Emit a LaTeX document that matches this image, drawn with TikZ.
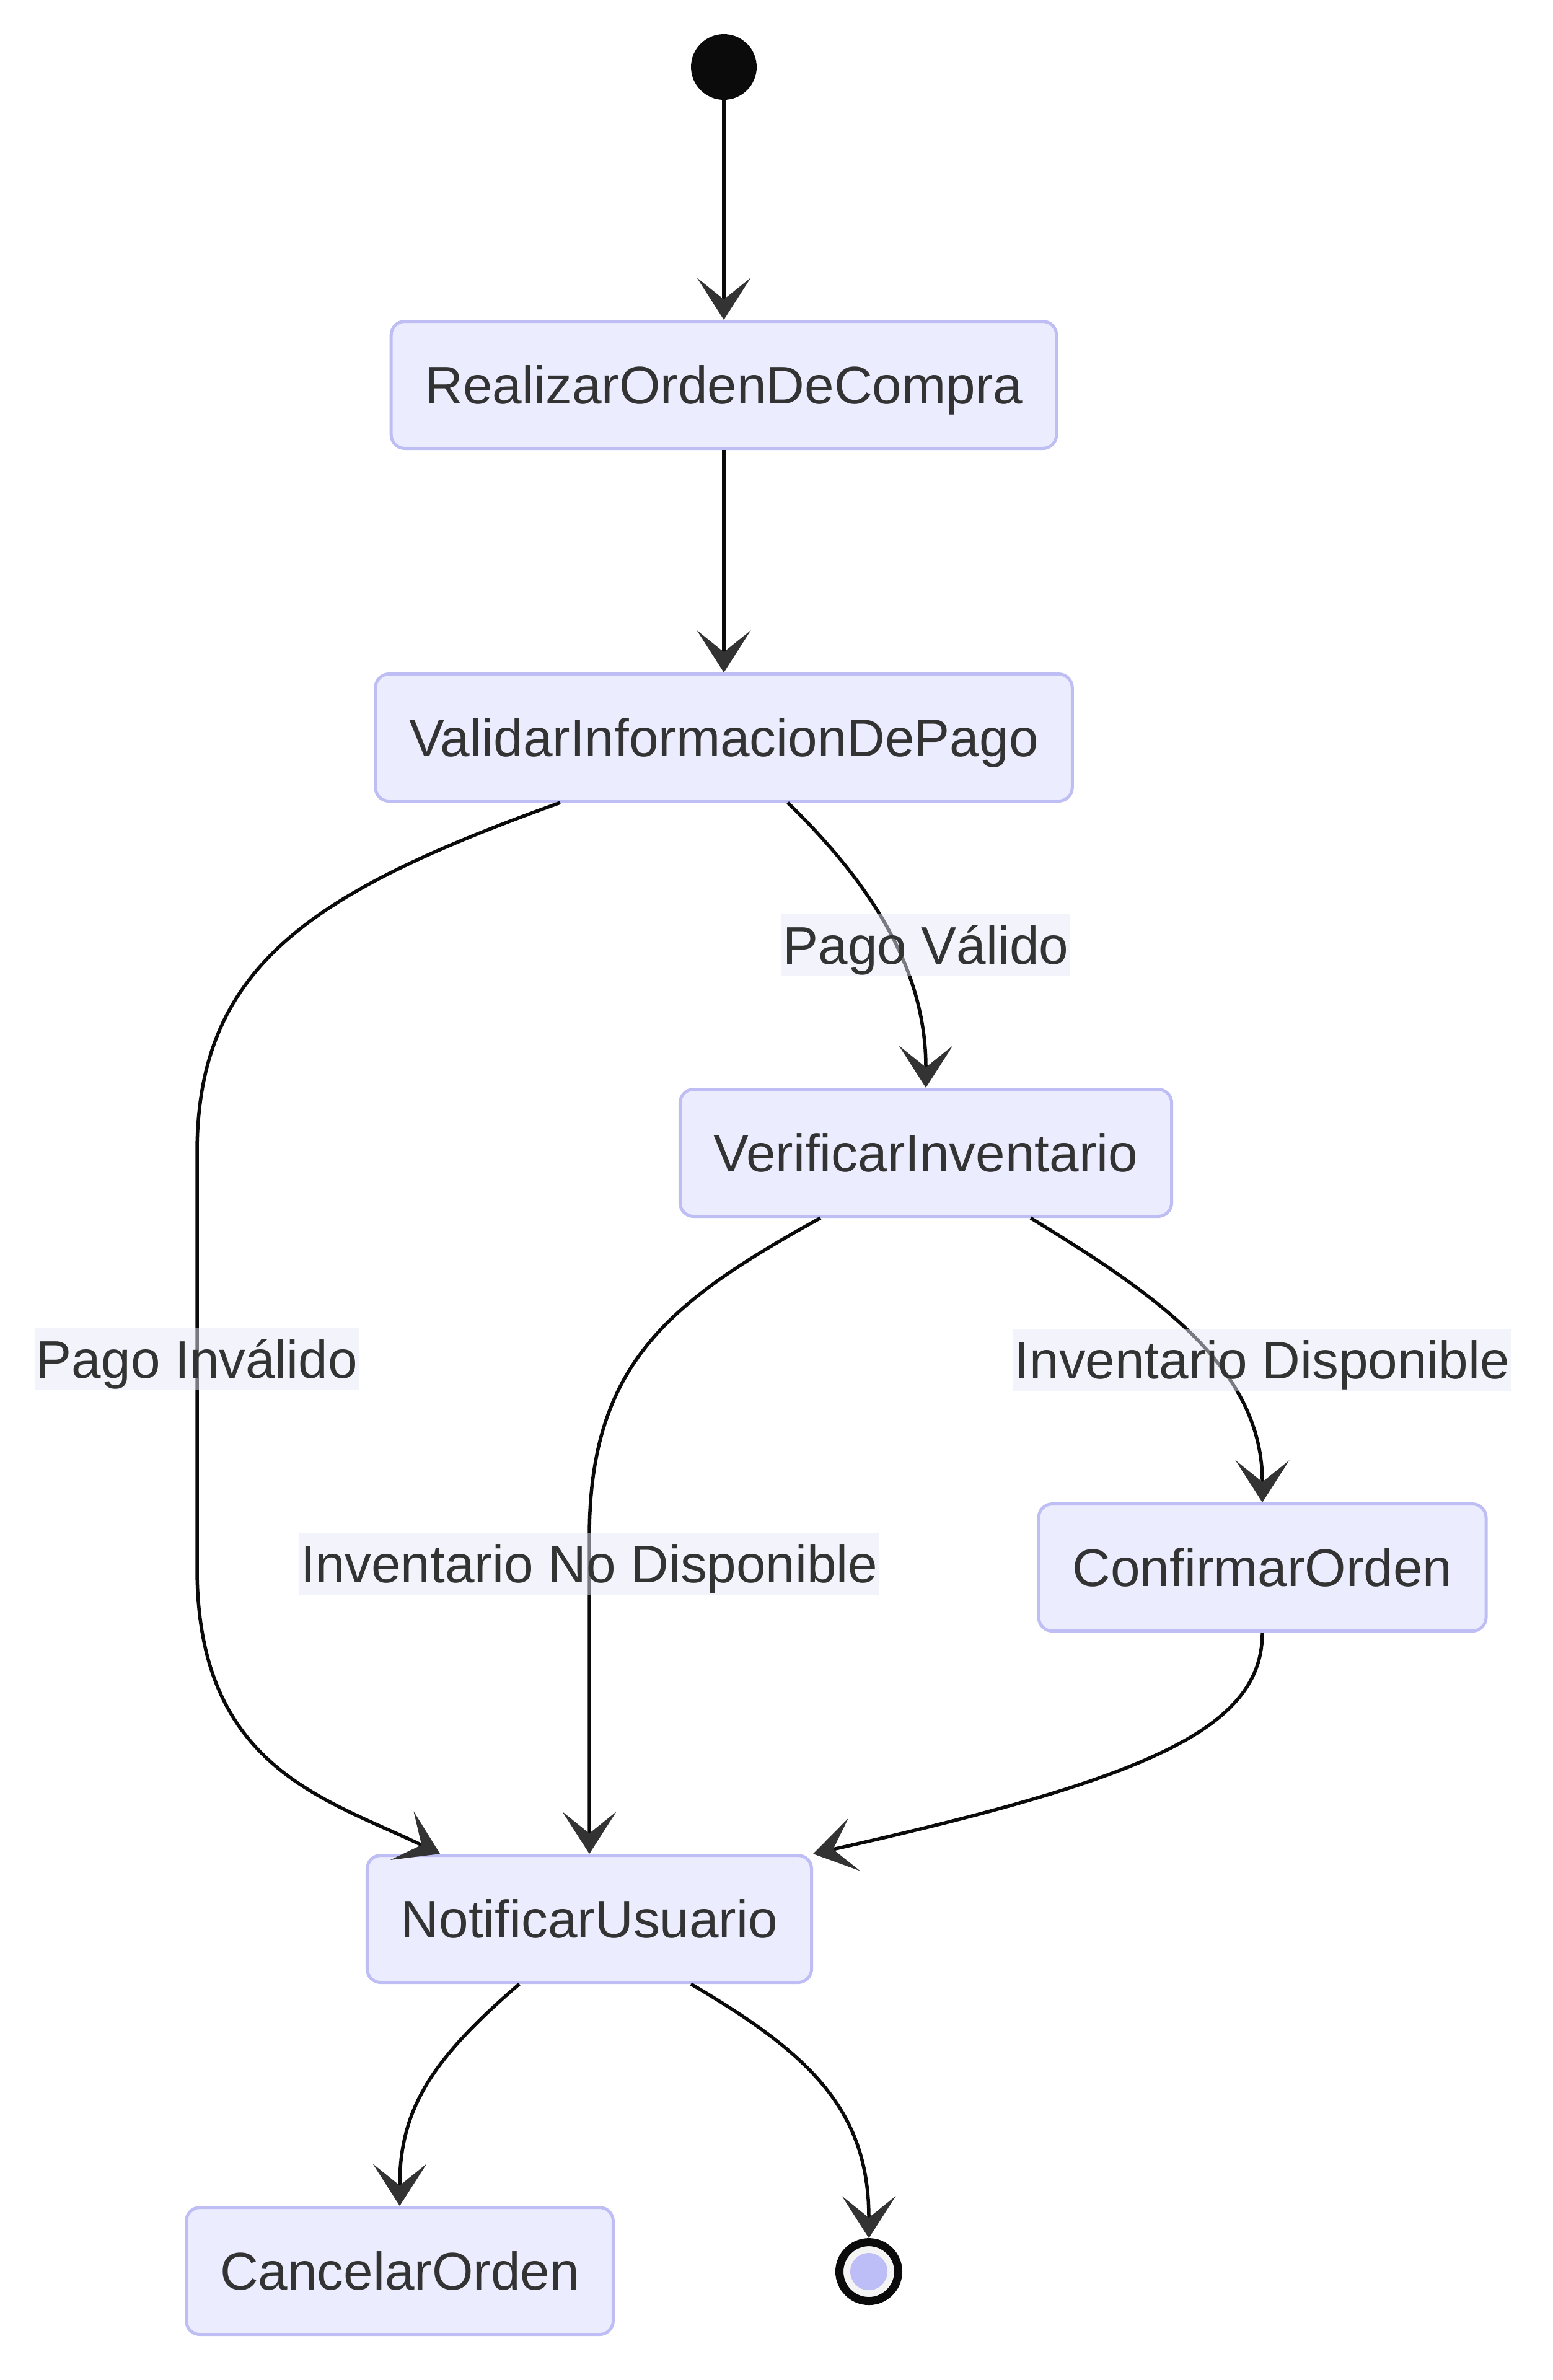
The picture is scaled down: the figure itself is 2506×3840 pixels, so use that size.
\documentclass[tikz,border=0pt]{standalone}
\usepackage{fontspec}
\setmainfont{Liberation Sans}
\usetikzlibrary{arrows.meta,positioning}
\definecolor{stbg}{HTML}{ECECFF}
\definecolor{stline}{HTML}{BEBEF5}
\definecolor{txt}{HTML}{333333}
\definecolor{edgec}{HTML}{0B0B0B}
\definecolor{tipc}{HTML}{333333}
\definecolor{lblbg}{HTML}{E8E8F8}
\definecolor{endc}{HTML}{BDBDF7}
\definecolor{endbg}{HTML}{F4F4F4}

\begin{document}
\begin{tikzpicture}[x=0.2pt,y=-0.2pt,on grid,font=\fontsize{17.1pt}{20.5pt}\selectfont,
    main node/.style={rectangle,rounded corners=4.4pt,draw=stline,fill=stbg,line width=1pt,text=txt,minimum height=41pt,inner xsep=10.9pt,inner ysep=0pt,text height=12.2pt,text depth=0pt},
    start node/.style={circle,fill=edgec,minimum size=21.2pt,inner sep=0pt},
    end node/.style={circle,draw=edgec,fill=endbg,line width=2.6pt,minimum size=19pt,inner sep=0pt},
    lbl/.style={fill=lblbg,fill opacity=0.5,text opacity=1,text=txt,minimum height=20pt,inner xsep=0.5pt,inner ysep=0pt,text height=12.2pt,text depth=0pt},
    trans/.style={draw=edgec,line width=1.1pt,-{Stealth[length=13.6pt,width=17.4pt,inset=7pt,color=tipc,line width=0pt]}}]
    \useasboundingbox (0,0) rectangle (2506,3840);

    \node[start node] (s) at (1168,108) {};
    \node[main node] (1) [below=102.6pt of s] {RealizarOrdenDeCompra};
    \node[main node] (2) [below=113.8pt of 1] {ValidarInformacionDePago};
    \node[main node] (3) [below right=134pt and 65.2pt of 2] {VerificarInventario};
    \node[main node] (4) [below right=133.8pt and 108.6pt of 3] {ConfirmarOrden};
    \node[main node] (5) [below left=113.4pt and 217.2pt of 4] {NotificarUsuario};
    \node[main node] (6) [below left=113.6pt and 61.2pt of 5] {CancelarOrden};
    \node[end node] (e) [below right=113.8pt and 90.2pt of 5] {};
    \fill[endc] (e) circle (6pt);

    \path[trans]
    (s) edge (1)
    (1) edge (2);
    \draw[trans] ([xshift=20.6pt]2.south) .. controls (1400,1420) and (1494,1560) .. (3.north);
    \draw[trans] ([xshift=-52.8pt]2.south) .. controls (500,1440) and (318,1560) .. (318,1860)
      -- (318,2530) .. controls (318,2850) and (520,2900) .. ([xshift=-48.2pt]5.north);
    \draw[trans] ([xshift=-34pt]3.south) .. controls (1080,2100) and (951,2200) .. (951,2480) -- (5.north);
    \draw[trans] ([xshift=33.8pt]3.south) .. controls (1850,2080) and (2037,2200) .. (4.north);
    \draw[trans] (4.south) .. controls (2037,2790) and (1850,2870) .. (5.north east);
    \draw[trans] ([xshift=-22.6pt]5.south) .. controls (700,3320) and (645,3400) .. (6.north);
    \draw[trans] ([xshift=32.8pt]5.south) .. controls (1300,3310) and (1402,3400) .. (e.north);

    \node[lbl] (v) [above=67pt of 3] {Pago Válido};
    \node[lbl] (iv) [above left=180.6pt and 126.6pt of 5] {Pago Inválido};
    \node[lbl] (d) [above=67pt of 4] {Inventario Disponible};
    \node[lbl] (nd) [above=114.6pt of 5] {Inventario No Disponible};
\end{tikzpicture}
\end{document}
